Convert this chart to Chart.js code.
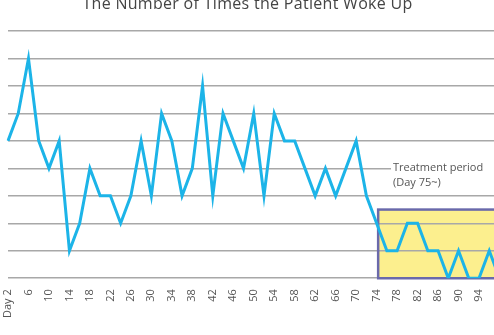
<!DOCTYPE html>
<html>
<head>
<meta charset="utf-8">
<script src="https://cdn.jsdelivr.net/npm/chart.js@4/dist/chart.umd.min.js"></script>
<style>
  html, body { margin: 0; padding: 0; background: #fff; overflow: hidden; }
  #wrap { position: relative; width: 494px; height: 335px; overflow: hidden; }
  canvas { position: absolute; left: -3px; top: 0; }
</style>
</head>
<body>
<div id="wrap"><canvas id="wokeChart" width="515" height="335"></canvas></div>
<script>
const chartTitle = "The Number of Times the Patient Woke Up"

// days recorded (every second day)
const days = ["2", "4", "6", "8", "10", "12", "14", "16", "18", "20",
              "22", "24", "26", "28", "30", "32", "34", "36", "38", "40",
              "42", "44", "46", "48", "50", "52", "54", "56", "58", "60",
              "62", "64", "66", "68", "70", "72", "74", "76", "78", "80",
              "82", "84", "86", "88", "90", "92", "94", "96", "98"]

const timesWokeUp = [5, 6, 8, 5, 4, 5, 1, 2, 4, 3,
                     3, 2, 3, 5, 3, 6, 5, 3, 4, 7,
                     3, 6, 5, 4, 6, 3, 6, 5, 5, 4,
                     3, 4, 3, 4, 5, 3, 2, 1, 1, 2,
                     2, 1, 1, 0, 1, 0, 0, 1, 0]

// shown under every other point
const tickLabels = ["Day 2", "6", "10", "14", "18", "22", "26", "30", "34", "38",
                    "42", "46", "50", "54", "58", "62", "66", "70", "74", "78",
                    "82", "86", "90", "94"]

const treatmentStartDay = 74.3
const treatmentBoxTop = 2.5
const treatmentText = ["Treatment period", "(Day 75~)"]

const dayToIndex = d => (d - 2) / 2

const treatmentPlugin = {
    id: 'treatment',
    beforeDraw(chart) {
        const {ctx, scales: {x, y}} = chart
        const left = x.getPixelForValue(dayToIndex(treatmentStartDay))
        const top = y.getPixelForValue(treatmentBoxTop)
        const bottom = y.getPixelForValue(0)
        ctx.save()
        ctx.fillStyle = "#fcef8e"
        ctx.fillRect(left, top, chart.width - left, bottom - top)
        ctx.restore()
    },
    beforeDatasetsDraw(chart) {
        const {ctx, scales: {x, y}} = chart
        const left = x.getPixelForValue(dayToIndex(treatmentStartDay))
        const top = y.getPixelForValue(treatmentBoxTop)
        const bottom = y.getPixelForValue(0)
        ctx.save()
        ctx.strokeStyle = "#6a69ab"
        ctx.lineWidth = 2.5
        ctx.strokeRect(left, top, chart.width + 10 - left, bottom - top)
        ctx.restore()
    },
    afterDraw(chart) {
        const {ctx, scales: {x, y}} = chart
        const tx = x.getPixelForValue(dayToIndex(77.2))
        const ty = y.getPixelForValue(4) - 1
        ctx.save()
        ctx.fillStyle = "#ffffff"
        ctx.fillRect(tx - 2, ty - 9, chart.width, 32)
        ctx.fillStyle = "#555555"
        ctx.font = "11px 'Open Sans'"
        ctx.textBaseline = "middle"
        ctx.textAlign = "left"
        ctx.fillText(treatmentText[0], tx, ty)
        ctx.fillText(treatmentText[1], tx, ty + 15)

        // title, partly cut at the top of the picture
        ctx.fillStyle = "#444444"
        ctx.font = "16px 'Open Sans'"
        ctx.letterSpacing = "0.3px"
        ctx.textAlign = "center"
        ctx.textBaseline = "alphabetic"
        ctx.fillText(chartTitle, 250.5, 8.5)
        ctx.restore()
    }
}

const lineData = {
    labels: days,
    datasets: [{
        data: timesWokeUp,
        borderColor: "#1cb4e8",
        borderWidth: 3,
        pointRadius: 0,
        tension: 0,
        fill: false
    }]
}

const config = {
    type: 'line',
    data: lineData,
    options: {
        responsive: false,
        animation: false,
        layout: { padding: { left: 6, right: 12.5, top: 31, bottom: 6 } },
        plugins: { legend: { display: false }, tooltip: { enabled: false } },
        scales: {
            x: {
                grid: { display: false, drawTicks: false },
                border: { display: false },
                ticks: {
                    autoSkip: false,
                    maxRotation: 90,
                    minRotation: 90,
                    padding: 11,
                    color: "#555555",
                    font: { family: "'Open Sans'", size: 11 },
                    callback: (v, i) => i % 2 === 0 && tickLabels[i / 2] ? tickLabels[i / 2] : null
                }
            },
            y: {
                min: 0,
                max: 9,
                ticks: { display: false, stepSize: 1 },
                border: { display: false },
                grid: { color: "#a8a8a8", lineWidth: 1.5, drawTicks: false }
            }
        }
    },
    plugins: [treatmentPlugin]
}

const wokeChart = new Chart(document.getElementById('wokeChart'), config)
</script>
</body>
</html>
